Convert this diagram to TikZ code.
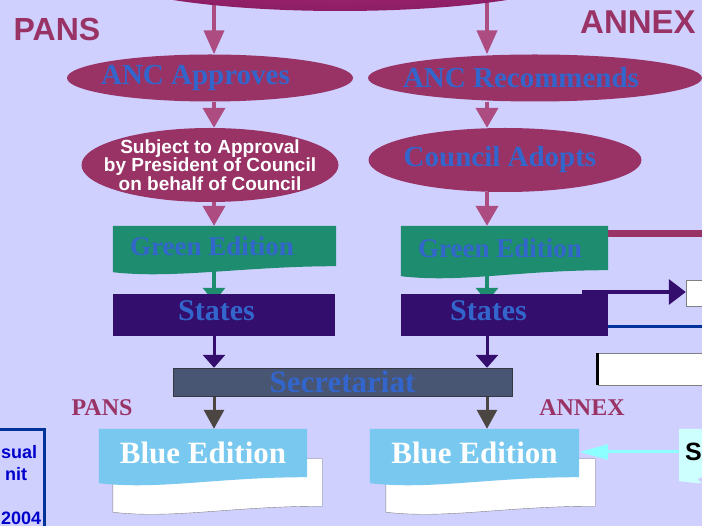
\documentclass[tikz,border=0pt]{standalone}
\usepackage{fontspec}
\setmainfont{Liberation Serif}
\setsansfont{Liberation Sans}
\usetikzlibrary{arrows.meta,shapes.geometric,backgrounds}

\definecolor{slidebg}{RGB}{208,208,255}
\definecolor{plum}{RGB}{153,51,102}
\definecolor{plumarrow}{RGB}{172,76,128}
\definecolor{txtblue}{RGB}{51,102,204}
\definecolor{gedgreen}{RGB}{30,140,110}
\definecolor{statepurple}{RGB}{52,14,108}
\definecolor{secgray}{RGB}{72,85,115}
\definecolor{arrowgray}{RGB}{75,70,65}
\definecolor{bedblue}{RGB}{120,200,240}
\definecolor{cyanarrow}{RGB}{140,255,255}
\definecolor{palecyan}{RGB}{205,255,255}
\definecolor{linkblue}{RGB}{0,51,153}
\definecolor{unitblue}{RGB}{0,0,204}

\newcommand{\fsize}[1]{\fontsize{#1}{#1}\selectfont}
% wavy bottom of a document shape, around node #1
\newcommand{\docpath}[2]{%
  \path[#2] (#1.north west) -- (#1.north east) -- (#1.south east)
    .. controls ([xshift=-90pt]#1.south east) and ([xshift=60pt,yshift=-13pt]#1.south west)
    .. ([yshift=-6pt]#1.south west) -- cycle;}

\begin{document}
\begin{tikzpicture}[x=1pt, y=-1pt,
  oval/.style={ellipse, fill=plum, inner xsep=-30pt, inner ysep=0pt, text=txtblue, font=\fsize{29}\bfseries},
  doc/.style={rectangle, inner sep=0pt, font=\fsize{27}\bfseries},
  statebox/.style={rectangle, fill=statepurple, inner sep=0pt, text=txtblue, font=\fsize{30}\bfseries},
  pinkarrow/.style={draw=plumarrow, line width=4pt, -{Triangle[width=22pt,length=20pt]}},
  greenarrow/.style={draw=gedgreen, line width=4pt, -{Triangle[width=22pt,length=14pt]}, shorten >=-8pt},
  statearrow/.style={draw=statepurple, line width=3pt, -{Triangle[width=22pt,length=13pt]}},
  grayarrow/.style={draw=arrowgray, line width=3pt, -{Triangle[width=20pt,length=19pt]}}]
  \useasboundingbox (0,0) rectangle (702,526);
  \coordinate (colL) at (214,0);
  \coordinate (colR) at (487,0);

  \node (top) [ellipse, minimum width=490pt, minimum height=82pt, inner color={rgb,255:red,178;green,40;blue,128}, outer color={rgb,255:red,140;green,30;blue,100}] at (340,-30) {};
  \node (pansT) [font=\sffamily\fsize{32}\bfseries, text=plum] at (57,29) {PANS};
  \node (annexT) [anchor=west, inner sep=0pt, font=\sffamily\fsize{33}\bfseries, text=plum] at (580,22.5) {ANNEX};

  \node (anc1) [oval, minimum width=286pt, minimum height=47pt] at (210,78) {ANC Approves\hspace*{29pt}};
  \node (anc2) [oval, minimum width=334pt, minimum height=47pt] at (535,78) {ANC Recommends\hspace*{28pt}};
  \node (subj) [oval, minimum width=257pt, minimum height=74pt, text=white, align=center, font=\sffamily\fontsize{19}{17.5}\selectfont\bfseries] at (210,165) {Subject to Approval\\by President of Council\\on behalf of Council};
  \node (cad) [oval, minimum width=273pt, minimum height=64pt] at (505,160) {Council Adopts\hspace*{10pt}};

  \node (ge1) [doc, minimum width=223pt, minimum height=40pt, text=txtblue] at (224.5,246) {Green Edition\hspace*{25pt}};
  \node (ge2) [doc, minimum width=207pt, minimum height=44pt, text=txtblue] at (504.5,248) {Green Edition\hspace*{9pt}};

  \node (st1) [statebox, minimum width=222pt, minimum height=42pt] at (224,315) {\raisebox{8pt}{States}\hspace*{15pt}};
  \node (st2) [statebox, minimum width=207pt, minimum height=42pt] at (504.5,315) {\raisebox{8pt}{States}\hspace*{32pt}};
  \node (sbox) [rectangle, draw=gray, fill=white, minimum width=30pt, minimum height=26pt] at (701,293) {};
  \node (wbox) [rectangle, draw=gray, fill=white, minimum width=120pt, minimum height=32pt] at (658,369) {};
  \draw[line width=3pt] (wbox.north west) -- (wbox.south west);

  \node (sec) [rectangle, draw={rgb,255:red,55;green,55;blue,65}, fill=secgray, inner sep=0pt, minimum width=339pt, minimum height=28pt, text=txtblue, font=\fsize{31}\bfseries] at (342.5,382) {\raisebox{1.5pt}{Secretariat}};

  \node (pansB) [font=\fsize{24}\bfseries, text=plum] at (102,408) {PANS};
  \node (annexB) [font=\fsize{24}\bfseries, text=plum] at (582,408) {ANNEX};

  \node (bw1) [doc, minimum width=209pt, minimum height=47pt] at (217.5,482.5) {};
  \node (bw2) [doc, minimum width=209pt, minimum height=47pt] at (490.5,482.5) {};
  \node (be1) [doc, minimum width=208pt, minimum height=48pt, text=white, font=\fsize{31}\bfseries] at (203,453) {\raisebox{-3pt}{Blue Edition}};
  \node (be2) [doc, minimum width=209pt, minimum height=48pt, text=white, font=\fsize{31}\bfseries] at (474.5,453) {\raisebox{-3pt}{Blue Edition}};
  \node (cyb) [doc, anchor=west, text width=50pt, inner xsep=6pt, minimum height=46pt, align=left, font=\sffamily\fsize{25}\bfseries] at (679,452) {S};

  \node (vau) [rectangle, draw=linkblue, line width=3pt, minimum width=64pt, minimum height=130pt] at (12,495) {};
  \node (vaut) [anchor=north west, inner sep=0pt, align=left, text=unitblue, font=\sffamily\fontsize{18}{22}\selectfont\bfseries] at (1,445) {sual\\\hspace*{4pt}nit\\[22pt]2004};

  \begin{scope}[on background layer]
    \fill[slidebg] (0,0) rectangle (702,526);
    \docpath{bw1}{fill=white, draw=gray}
    \docpath{bw2}{fill=white, draw=gray}
    \docpath{ge1}{fill=gedgreen}
    \docpath{ge2}{fill=gedgreen}
    \docpath{be1}{fill=bedblue}
    \docpath{be2}{fill=bedblue}
    \docpath{cyb}{fill=palecyan}

    \draw[pinkarrow, -{Triangle[width=20pt,length=24pt]}] (top.center -| colL) -- (anc1.north -| colL);
    \draw[pinkarrow, -{Triangle[width=20pt,length=24pt]}] (top.center -| colR) -- (anc2.north -| colR);
    \draw[pinkarrow] (anc1.south -| colL) -- (subj.north -| colL);
    \draw[pinkarrow] (anc2.south -| colR) -- (cad.north -| colR);
    \draw[pinkarrow] (subj.south -| colL) -- (ge1.north -| colL);
    \draw[pinkarrow] (cad.south -| colR) -- (ge2.north -| colR);
    \draw[greenarrow] (ge1.south -| colL) -- (st1.north -| colL);
    \draw[greenarrow] (ge2.south -| colR) -- (st2.north -| colR);
    \draw[statearrow] (st1.south -| colL) -- (sec.north -| colL);
    \draw[statearrow] (st2.south -| colR) -- (sec.north -| colR);
    \draw[grayarrow] (sec.south -| colL) -- (be1.north -| colL);
    \draw[grayarrow] (sec.south -| colR) -- (be2.north -| colR);

    \coordinate (mg) at (720,234);
    \draw[plum, line width=7pt] (mg -| ge2.east) -- (mg);
    \coordinate (bl) at (720,327);
    \draw[linkblue, line width=3pt] (bl -| st2.east) -- (bl);
    \coordinate (fs) at (582,292);
    \draw[statepurple, line width=3.5pt, -{Triangle[width=25pt,length=17pt]}] (fs) -- (fs -| sbox.west);
    \draw[cyanarrow, line width=3pt, -{Triangle[width=15pt,length=29pt]}] (cyb.west) -- (cyb.west -| be2.east);
  \end{scope}
\end{tikzpicture}
\end{document}
